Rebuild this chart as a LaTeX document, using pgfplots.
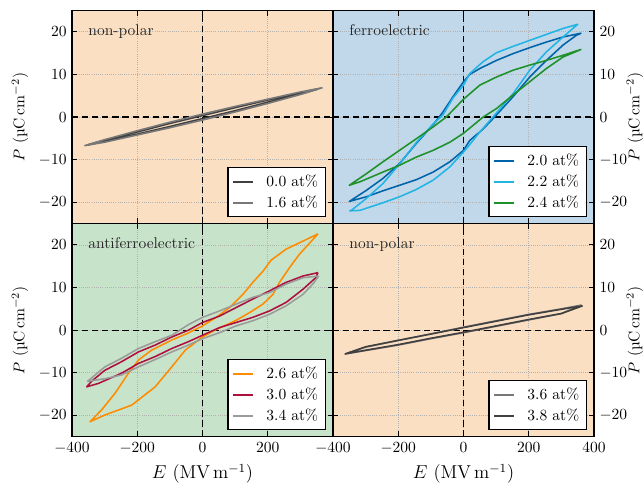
\documentclass[border=0pt]{standalone}
\usepackage{pgfplots}
\pgfplotsset{compat=1.18}
\definecolor{bgor}{RGB}{251,223,194}
\definecolor{bgbl}{RGB}{192,216,234}
\definecolor{bggr}{RGB}{199,228,203}
\definecolor{cdark}{RGB}{64,64,64}
\definecolor{cgray}{RGB}{120,120,120}
\definecolor{cdblue}{RGB}{0,100,170}
\definecolor{clblue}{RGB}{35,180,230}
\definecolor{cgreen}{RGB}{30,145,40}
\definecolor{corange}{RGB}{255,140,0}
\definecolor{ccrim}{RGB}{175,15,60}
\definecolor{cgrey}{RGB}{155,155,155}
\pgfplotsset{
 panel/.style={
  scale only axis, width=168.2pt, height=137.3pt,
  xmin=-400, xmax=400, ymin=-25, ymax=25,
  xtick={-400,-200,0,200,400}, ytick={-20,-10,0,10,20},
  tick align=inside, xtick pos=both, ytick pos=both, major tick length=3.5pt,
  grid=major, grid style={densely dotted, black!30, line width=0.5pt},
  axis line style={line width=0.7pt},
  every tick/.style={black, line width=0.6pt},
  tick label style={font=\normalsize},
  label style={font=\large},
  legend style={at={(rel axis cs:0.972,0.03)}, anchor=south east, draw=black, line width=0.7pt, fill=white, font=\normalsize, inner sep=2.5pt, row sep=0.5pt, cells={anchor=west}},
  legend image code/.code={\draw[#1, line width=1.3pt] (0pt,0pt) -- (13pt,0pt);},
  every axis plot/.append style={line width=1pt, line join=round},
 },
 rightlab/.style={yticklabel pos=right,
  every axis y label/.style={at={(rel axis cs:1,0.5)}, xshift=26.4pt, rotate=90, anchor=center}},
 leftlab/.style={
  every axis y label/.style={at={(rel axis cs:0,0.5)}, xshift=-33.5pt, rotate=90, anchor=center}},
 zl/.style={black, line width=0.8pt, dash pattern=on 4pt off 2.5pt, forget plot},
}
\newcommand{\zerolines}{%
 \addplot[zl] coordinates {(-400,0) (400,0)};
 \addplot[zl] coordinates {(0,-25) (0,25)};}
\newcommand{\panellabel}[1]{\node[anchor=north west, inner sep=0pt, xshift=10.4pt, yshift=-9pt, text=black!85] at (rel axis cs:0,1) {#1};}
\begin{document}
\begin{tikzpicture}
\path[use as bounding box] (-46.4pt,-166.9pt) rectangle (368.6pt,144.1pt);
% top-left
\begin{axis}[panel, leftlab, at={(0pt,0pt)}, anchor=south west, axis background/.style={fill=bgor},
  xticklabels={}, ylabel={$P$ (\textmu C\,cm$^{-2}$)}]
\zerolines
\addplot[cdark] coordinates {(355,6.6)(300,5.7)(200,4.0)(100,2.2)(0,0.35)(-100,-1.5)(-200,-3.5)(-300,-5.4)(-355,-6.6)
 (-300,-5.7)(-200,-4.0)(-100,-2.2)(0,-0.35)(100,1.5)(200,3.5)(300,5.4)(355,6.6)};
\addlegendentry{\hspace{6pt}0.0 at\%}
\addplot[cgray] coordinates {(368,6.9)(300,5.9)(200,4.2)(100,2.5)(0,0.7)(-100,-1.2)(-200,-3.2)(-300,-5.3)(-361,-6.7)
 (-300,-5.9)(-200,-4.2)(-100,-2.5)(0,-0.7)(100,1.2)(200,3.2)(300,5.3)(368,6.9)};
\addlegendentry{\hspace{6pt}1.6 at\%}
\panellabel{non-polar}
\end{axis}
% top-right
\begin{axis}[panel, rightlab, at={(168.2pt,0pt)}, anchor=south west, axis background/.style={fill=bgbl},
  xticklabels={}, ylabel={$P$ (\textmu C\,cm$^{-2}$)}]
\zerolines
\addplot[cdblue] coordinates {(361,19.7)(305,18.8)(254,17.6)(203,16.3)(152,14.9)(101,13.3)(50,11.4)(19,10)(0,8.3)(-32,4.8)(-63,1.2)(-90,-1.5)(-145,-6.2)(-196,-10.9)(-247,-14.4)(-298,-17.2)(-350,-19.8)
 (-298,-18.7)(-247,-17.3)(-196,-16)(-145,-14.7)(-93,-12.9)(-42,-10.5)(0,-7.8)(19,-5.5)(60,-2.8)(101,0.5)(152,4.8)(203,9.4)(254,13.3)(305,16.9)(346,19.2)(361,19.7)};
\addlegendentry{\hspace{6pt}2.0 at\%}
\addplot[clblue] coordinates {(351,21.8)(305,20.8)(254,19.4)(203,18)(152,16.6)(101,15.1)(60,13)(19,10.2)(0,7.5)(-32,4.5)(-63,0.5)(-93,-1.6)(-145,-6)(-196,-11)(-247,-15.6)(-298,-19.1)(-344,-21.9)(-349,-22)
 (-318,-21.9)(-247,-20.1)(-196,-18.7)(-145,-17)(-93,-14.8)(-42,-11.7)(9,-7.4)(50,-3.5)(90,0)(152,5.5)(203,11)(254,15.3)(305,18.8)(346,21.5)(351,21.8)};
\addlegendentry{\hspace{6pt}2.2 at\%}
\addplot[cgreen] coordinates {(361,15.9)(305,14.5)(254,13.3)(203,12.2)(152,11)(101,9.4)(50,7.5)(0,4.2)(-53,0)(-93,-2.3)(-145,-5.1)(-196,-7.8)(-247,-10.5)(-298,-13.3)(-350,-16)
 (-318,-15.2)(-247,-12.9)(-196,-11.3)(-145,-9.4)(-93,-7.8)(-42,-5.9)(0,-3.8)(60,0)(101,2)(152,5.2)(203,8.3)(254,11.4)(305,14.1)(361,15.9)};
\addlegendentry{\hspace{6pt}2.4 at\%}
\panellabel{ferroelectric}
\end{axis}
% bottom-left
\begin{axis}[panel, leftlab, at={(0pt,-137.3pt)}, anchor=south west, axis background/.style={fill=bggr},
  xticklabels={$-400$,$-200$,$0$,$200$,{}}, ylabel={$P$ (\textmu C\,cm$^{-2}$)}, xlabel={$E$ (MV\,m$^{-1}$)}]
\zerolines
\addplot[corange] coordinates {(354,22.6)(308,20.9)(256,19)(210,16.4)(185,13.8)(154,11.2)(124,8.4)(83,5.3)(42,3)(0,1.0)(-50,-0.9)(-94,-2.3)(-156,-4.7)(-196,-7)(-227,-10.1)(-268,-14.8)(-309,-18.7)(-345,-21.5)
 (-299,-19.9)(-217,-17.6)(-145,-13.3)(-94,-8.6)(-53,-4.7)(0,-1.6)(31,-0.3)(52,0.5)(103,2.3)(144,4.1)(185,6.1)(216,8.4)(236,11.2)(267,14.7)(297,17.8)(354,22.6)};
\addlegendentry{\hspace{6pt}2.6 at\%}
\addplot[ccrim] coordinates {(354,13.5)(308,12.7)(256,11.2)(205,9.2)(154,7.3)(103,5.3)(52,3.3)(0,1.8)(-43,0)(-94,-1.6)(-145,-3.5)(-196,-5.1)(-248,-7.4)(-299,-9.4)(-340,-12)(-355,-13.3)
 (-319,-12.5)(-248,-10.1)(-196,-7.8)(-145,-6.2)(-94,-4.3)(-43,-2.7)(0,-1.2)(52,0.6)(103,1.8)(154,3)(205,4.5)(256,6.5)(308,9.6)(347,12.3)(354,13.5)};
\addlegendentry{\hspace{6pt}3.0 at\%}
\addplot[cgrey] coordinates {(356,12.7)(308,12.3)(256,10.8)(205,8.8)(154,7.7)(103,6.1)(52,4.5)(0,3)(-43,1.3)(-94,-1.2)(-145,-2.7)(-196,-4.3)(-248,-6.6)(-299,-8.6)(-352,-12.0)
 (-299,-11.4)(-248,-10.5)(-196,-8.6)(-145,-6.9)(-94,-5.1)(-43,-3.5)(0,-2)(52,-0.6)(103,1)(154,2.2)(205,3.7)(256,5.7)(308,8.4)(340,11)(356,12.7)};
\addlegendentry{\hspace{6pt}3.4 at\%}
\panellabel{antiferroelectric}
\end{axis}
% bottom-right
\begin{axis}[panel, rightlab, at={(168.2pt,-137.3pt)}, anchor=south west, axis background/.style={fill=bgor},
  ylabel={$P$ (\textmu C\,cm$^{-2}$)}, xlabel={$E$ (MV\,m$^{-1}$)}]
\zerolines
\addplot[cgray] coordinates {(362,5.9)(300,5.0)(200,3.7)(100,2.2)(0,0.7)(-100,-0.9)(-200,-2.4)(-300,-4.0)(-360,-5.5)
 (-300,-4.8)(-200,-3.5)(-100,-2.0)(0,-0.6)(100,0.9)(200,2.4)(300,3.9)(362,5.9)};
\addlegendentry{\hspace{6pt}3.6 at\%}
\addplot[cdark] coordinates {(365,5.7)(300,4.9)(200,3.6)(100,2.1)(0,0.6)(-100,-0.9)(-200,-2.4)(-300,-3.9)(-363,-5.6)
 (-300,-4.7)(-200,-3.4)(-100,-1.9)(0,-0.5)(100,1.0)(200,2.5)(300,3.9)(365,5.7)};
\addlegendentry{\hspace{6pt}3.8 at\%}
\panellabel{non-polar}
\end{axis}
\end{tikzpicture}
\end{document}
